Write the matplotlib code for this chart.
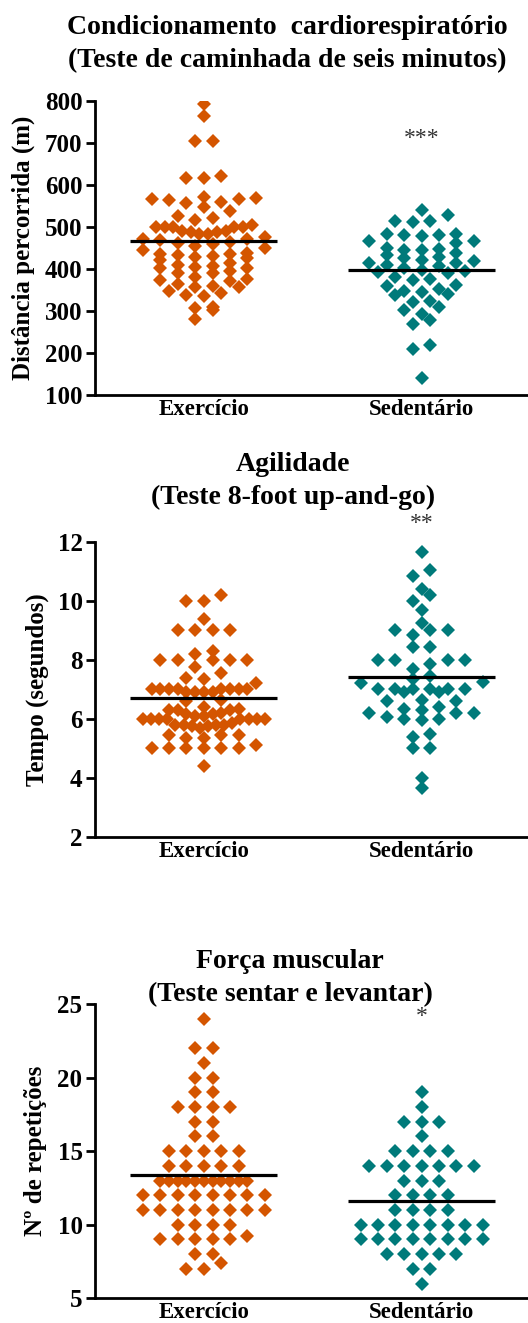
import numpy as np
import matplotlib
matplotlib.use("Agg")
import matplotlib.pyplot as plt

plt.rcParams['font.family'] = ['Liberation Serif', 'DejaVu Serif']
plt.rcParams['font.weight'] = 'bold'

grupos = ['Exercício', 'Sedentário']
cores = ['#D45500', '#007A7A']

# Teste de caminhada de seis minutos (m)
dist_exercicio = [792, 764, 704, 704, 621, 617, 617,
                  572, 568, 567, 566, 564, 560, 556, 548, 538, 526, 522,
                  516, 504, 500, 500, 500, 500, 500, 491, 491, 488, 488, 484, 484,
                  476, 472, 470, 468, 465, 462, 458, 455, 450, 445,
                  437, 435, 435, 433, 430, 428, 425, 420,
                  415, 410, 408, 405, 403, 401, 396, 391, 391,
                  381, 377, 373, 370, 363, 360, 358, 356,
                  348, 342, 339, 335, 310, 308, 302, 280]
dist_sedentario = [540, 528, 515, 515, 511,
                   483, 483, 480, 480, 477, 466, 466, 462,
                   449, 448, 445, 445, 438, 432, 429, 425,
                   420, 418, 415, 413, 410, 408, 401, 397,
                   395, 393, 390, 381, 375, 373,
                   362, 359, 351, 348, 346, 340, 338,
                   324, 322, 310, 302, 293, 278, 269, 219, 209, 141]

# Teste 8-foot up-and-go (s)
tempo_exercicio = [10.2, 10.0, 10.0, 9.4, 9.0, 9.0, 9.0, 9.0,
                   8.3, 8.2, 8.0, 8.0, 8.0, 8.0, 8.0,
                   7.75, 7.55, 7.4, 7.35, 7.2,
                   7.0, 7.0, 7.0, 7.0, 7.0, 7.0, 7.0, 7.0,
                   6.9, 6.9, 6.9, 6.9, 6.65, 6.6,
                   6.4, 6.35, 6.3, 6.3, 6.3,
                   6.2, 6.15, 6.15, 6.1, 6.1,
                   6.0, 6.0, 6.0, 6.0, 6.0, 6.0, 6.0, 6.0,
                   5.85, 5.8, 5.8, 5.8, 5.8, 5.75, 5.75, 5.7,
                   5.45, 5.45, 5.45, 5.35, 5.35, 5.1,
                   5.0, 5.0, 5.0, 5.0, 5.0, 5.0, 4.4]
tempo_sedentario = [11.65, 11.05, 10.85, 10.4, 10.2, 10.0, 9.7, 9.25,
                    9.0, 9.0, 9.0, 8.85, 8.45, 8.45,
                    8.0, 8.0, 8.0, 8.0, 7.85, 7.7, 7.45, 7.35, 7.25, 7.2,
                    7.0, 7.0, 7.0, 7.0, 7.0, 7.0, 6.9, 6.9,
                    6.65, 6.6, 6.6, 6.4, 6.35,
                    6.3, 6.2, 6.2, 6.2, 6.05, 6.0, 6.0, 5.95,
                    5.5, 5.4, 5.0, 5.0, 4.0, 3.65]

# Teste sentar e levantar (repeticoes)
rep_exercicio = [24, 22, 22, 21, 20, 20, 19, 19, 18, 18, 18, 18, 17, 17, 16, 16,
                 15, 15, 15, 15, 15, 14, 14, 14, 14, 14,
                 13, 13, 13, 13, 13, 13, 13, 13, 13, 13, 13,
                 12, 12, 12, 12, 12, 12, 12, 12,
                 11, 11, 11, 11, 11, 11, 11, 11,
                 10, 10, 10, 10, 9.2, 9, 9, 9, 9, 9, 8, 8, 7.4, 7, 7]
rep_sedentario = [19, 18, 17, 17, 17, 16, 15, 15, 15, 15,
                  14, 14, 14, 14, 14, 14, 14, 13, 13, 13,
                  12, 12, 12, 12, 11, 11, 11, 11,
                  10, 10, 10, 10, 10, 10, 10, 10,
                  9, 9, 9, 9, 9, 9, 9, 9,
                  8, 8, 8, 8, 8, 7, 7, 6]

titulos = [('Condicionamento  cardiorespiratório', '(Teste de caminhada de seis minutos)'),
           ('Agilidade', '(Teste 8-foot up-and-go)'),
           ('Força muscular', '(Teste sentar e levantar)')]
ylabels = ['Distância percorrida (m)', 'Tempo (segundos)', 'Nº de repetições']
dados = [(dist_exercicio, dist_sedentario),
         (tempo_exercicio, tempo_sedentario),
         (rep_exercicio, rep_sedentario)]
ylims = [(100, 800), (2, 12), (5, 25)]
yticks = [np.arange(100, 801, 100), np.arange(2, 13, 2), np.arange(5, 26, 5)]
signif = ['***', '**', '*']
signif_y = [710, 12.63, 24.14]
tolerancia = [22, 0.3, 0.5]


def espalhar(valores, tol, passo=0.04, maximo=7):
    # agrupa valores proximos em linhas e centraliza cada linha
    v = np.sort(np.asarray(valores, float))
    xs, ys = [], []
    i = 0
    while i < len(v):
        j = i
        while j < len(v) and v[j] - v[i] <= tol:
            j += 1
        linha = v[i:j]
        n = len(linha)
        if n - 1 <= maximo:
            esp = 2.0
        else:
            esp = min(1.0, 2.0 * maximo / (n - 1))
        off = (np.arange(n) - (n - 1) / 2) * esp * passo
        # valores alternados do centro para fora
        ordem = np.argsort(np.abs(np.arange(n) - (n - 1) / 2) + 0.01 * np.arange(n))
        ys_linha = np.empty(n)
        ys_linha[ordem] = linha
        xs.extend(off)
        ys.extend(ys_linha)
        i = j
    return np.array(xs), np.array(ys)


W, H = 528, 1323
fig = plt.figure(figsize=(W / 100, H / 100), dpi=100)

ax_topo = [100.7, 542, 1004]
ax_base = [395, 836.7, 1298.3]
titulo_y = [(34, 67), (471, 504), (968, 1001)]
titulo_x = [287, 293, 290]
label_x = [35, 49, 47]

for k in range(3):
    y0 = 1 - ax_base[k] / H
    h = (ax_base[k] - ax_topo[k]) / H
    ax = fig.add_axes([95 / W, y0, 1 - 95 / W, h])

    for g in range(2):
        xs, ys = espalhar(dados[k][g], tolerancia[k])
        ax.plot(g + xs, ys, linestyle='none', marker='D', ms=6.9, mew=0,
                color=cores[g], zorder=2)
        media = np.mean(dados[k][g])
        ax.plot([g - 0.337, g + 0.337], [media, media], color='black', lw=2.3,
                solid_capstyle='butt', zorder=3)

    ax.text(1, signif_y[k], signif[k], ha='center', va='center', fontsize=17,
            fontweight='normal', color='#333333', clip_on=False)

    ax.set_xlim(-0.5, 1.489)
    ax.set_ylim(*ylims[k])
    ax.set_yticks(yticks[k])
    ax.set_xticks([0, 1])
    ax.set_xticklabels(grupos, fontsize=16.5, fontweight='bold')
    ax.tick_params(axis='x', length=0, pad=3)
    ax.tick_params(axis='y', length=6.5, width=2, pad=2.5, labelsize=18)
    for lab in ax.get_yticklabels():
        lab.set_fontweight('bold')
    for s in ['top', 'right']:
        ax.spines[s].set_visible(False)
    for s in ['left', 'bottom']:
        ax.spines[s].set_linewidth(2)
    ax.set_ylabel(ylabels[k], fontsize=18, fontweight='bold')
    ax.yaxis.set_label_coords((label_x[k] - 95) / (W - 95), 0.5)

    fig.text(titulo_x[k] / W, 1 - titulo_y[k][0] / H, titulos[k][0],
             ha='center', va='baseline', fontsize=20, fontweight='bold')
    fig.text(titulo_x[k] / W, 1 - titulo_y[k][1] / H, titulos[k][1],
             ha='center', va='baseline', fontsize=20, fontweight='bold')

fig.savefig('out.png', dpi=100)
